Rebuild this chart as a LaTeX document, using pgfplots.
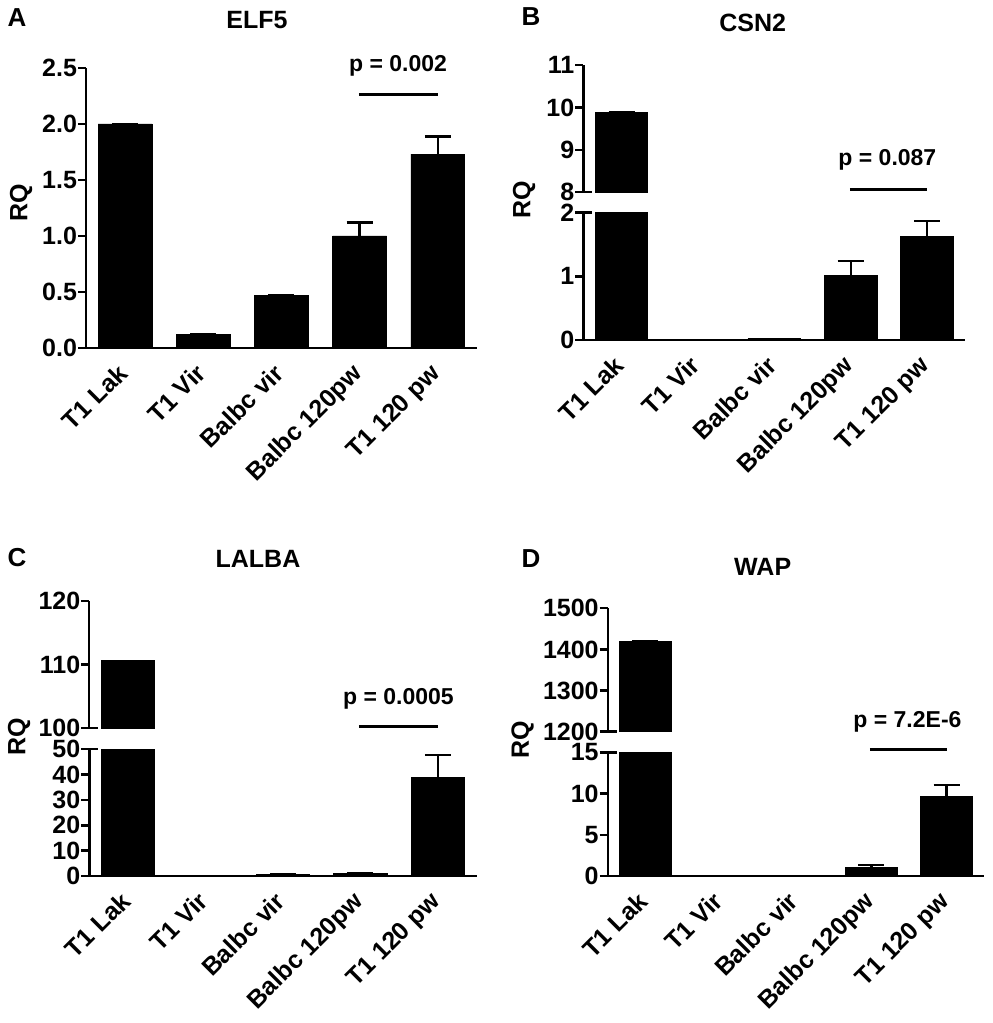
\documentclass[border=0pt]{standalone}
\usepackage{fontspec}
\setmainfont{Liberation Sans}
\usepackage{pgfplots}
\pgfplotsset{compat=1.18}
\usepackage{pgfplotstable}

\newcommand{\fs}{\fontsize{12.5}{14}\selectfont\bfseries}
\newcommand{\fp}{\fontsize{11.5}{13}\selectfont\bfseries}
\newcommand{\ft}{\fontsize{12.5}{14}\selectfont\bfseries}
\newcommand{\fl}{\fontsize{13}{15}\selectfont\bfseries}

\pgfplotstableread{
x y e
0 2.00 0
1 0.12 0
2 0.47 0
3 1.00 0.12
4 1.73 0.16
}\dataA
\pgfplotstableread{
x y e
0 9.89 0
1 0.00 0
2 0.02 0
3 1.01 0.23
4 1.62 0.25
}\dataB
\pgfplotstableread{
x y e
0 110.6 0
1 0.0 0
2 0.6 0
3 1.0 0
4 38.8 8.9
}\dataC
\pgfplotstableread{
x y e
0 1419 0
1 0 0
2 0 0
3 1.0 0.33
4 9.7 1.34
}\dataD

\pgfplotsset{
 rq/.style={
  scale only axis,
  anchor=south west,
  xmin=-0.5, xmax=4.5,
  axis y line*=left,
  axis line style={line width=1.2pt, -},
  ytick style={line width=1.2pt, black},
  major tick length=4pt,
  tick align=outside,
  every tick label/.append style={font=\fs, text=black},
  yticklabel style={xshift=3pt},
  /pgf/number format/assume math mode=true,
  /pgf/number format/1000 sep={},
  scaled y ticks=false,
  ybar, bar width=0.69,
  clip mode=individual,
 },
 lower/.style={
  axis x line*=bottom,
  xtick={0,...,4},
  xticklabels={T1 Lak, T1 Vir, Balbc vir, Balbc 120pw, T1 120 pw},
  xtick style={draw=none},
  xticklabel style={xshift=-4.5pt, yshift=-1.5pt, rotate=45, anchor=north east, inner sep=1pt},
 },
 upper/.style={
  axis x line=none,
  xtick=\empty,
 },
 brk/.style={extra y ticks={#1}, extra y tick labels={},
  extra y tick style={tick align=inside, major tick length=4.5pt, line width=1.2pt}},
 barstyle/.style={fill=black, draw=black,
  error bars/.cd, y dir=plus, y explicit,
  error bar style={line width=1.2pt, black},
  error mark options={rotate=90, mark size=6.5pt, line width=1.2pt, black},
  /pgfplots/.cd},
}

\begin{document}
\begin{tikzpicture}
\path[use as bounding box] (0,0) rectangle (496pt,511.5pt);

% ---------------- A: ELF5
\begin{axis}[rq, lower, at={(43pt,337.5pt)}, width=195.5pt, height=140pt,
  ymin=0, ymax=2.5, ytick={0,0.5,...,2.5},
  yticklabel style={/pgf/number format/.cd, fixed, fixed zerofill, precision=1}]
\addplot[barstyle] table[x=x, y=y, y error=e] {\dataA};
\draw[line width=1.6pt] (axis cs:2.99,2.26) -- (axis cs:4.0,2.26);
\node[font=\fp] at (axis cs:3.49,2.52) {p = 0.002};
\end{axis}
\node[font=\fl] at (8.5pt,502.5pt) {A};
\node[font=\ft] at (128.5pt,501.5pt) {ELF5};
\node[font=\fs, rotate=90] at (10.5pt,410pt) {RQ};

% ---------------- B: CSN2
\begin{axis}[rq, lower, brk=2, at={(291.65pt,341.5pt)}, width=191pt, height=63.65pt,
  ymin=0, ymax=2, ytick={0,1,2}]
\addplot[barstyle] table[x=x, y=y, y error=e] {\dataB};
\end{axis}
\begin{axis}[rq, upper, brk=8, at={(291.65pt,415.35pt)}, width=191pt, height=63.65pt,
  ymin=8, ymax=11, ytick={8,9,10,11}]
\addplot[skip coords between index={1}{5}, barstyle] table[x=x, y=y, y error=e] {\dataB};
\draw[line width=1.6pt] (axis cs:2.99,8.07) -- (axis cs:4.0,8.07);
\node[font=\fp] at (axis cs:3.48,8.76) {p = 0.087};
\end{axis}
\node[font=\fl] at (265.5pt,503pt) {B};
\node[font=\ft] at (376.35pt,500.15pt) {CSN2};
\node[font=\fs, rotate=90] at (262pt,411.5pt) {RQ};

% ---------------- C: LALBA
\begin{axis}[rq, lower, brk=50, at={(44.65pt,73.5pt)}, width=193.7pt, height=63.35pt,
  ymin=0, ymax=50, ytick={0,10,...,50}]
\addplot[barstyle] table[x=x, y=y, y error=e] {\dataC};
\end{axis}
\begin{axis}[rq, upper, brk=100, at={(44.65pt,147.35pt)}, width=193.7pt, height=63.65pt,
  ymin=100, ymax=120, ytick={100,110,120}]
\addplot[skip coords between index={1}{5}, barstyle] table[x=x, y=y, y error=e] {\dataC};
\draw[line width=1.6pt] (axis cs:2.98,100.25) -- (axis cs:4.0,100.25);
\node[font=\fp] at (axis cs:3.49,104.7) {p = 0.0005};
\end{axis}
\node[font=\fl] at (8.5pt,232.5pt) {C};
\node[font=\ft] at (129pt,232pt) {LALBA};
\node[font=\fs, rotate=90] at (9.5pt,143pt) {RQ};

% ---------------- D: WAP
\begin{axis}[rq, lower, brk=15, at={(303.85pt,73.5pt)}, width=188.3pt, height=61.85pt,
  ymin=0, ymax=15, ytick={0,5,10,15}]
\addplot[barstyle] table[x=x, y=y, y error=e] {\dataD};
\end{axis}
\begin{axis}[rq, upper, brk=1200, at={(303.85pt,145.65pt)}, width=188.3pt, height=61.7pt,
  ymin=1200, ymax=1500, ytick={1200,1300,1400,1500}]
\addplot[skip coords between index={1}{5}, barstyle] table[x=x, y=y, y error=e] {\dataD};
\draw[line width=1.6pt] (axis cs:2.98,1157) -- (axis cs:4.0,1157);
\node[font=\fp] at (axis cs:3.48,1224) {p = 7.2E-6};
\end{axis}
\node[font=\fl] at (265.5pt,232pt) {D};
\node[font=\ft] at (381.35pt,228.15pt) {WAP};
\node[font=\fs, rotate=90] at (261.35pt,141.5pt) {RQ};
\end{tikzpicture}
\end{document}
